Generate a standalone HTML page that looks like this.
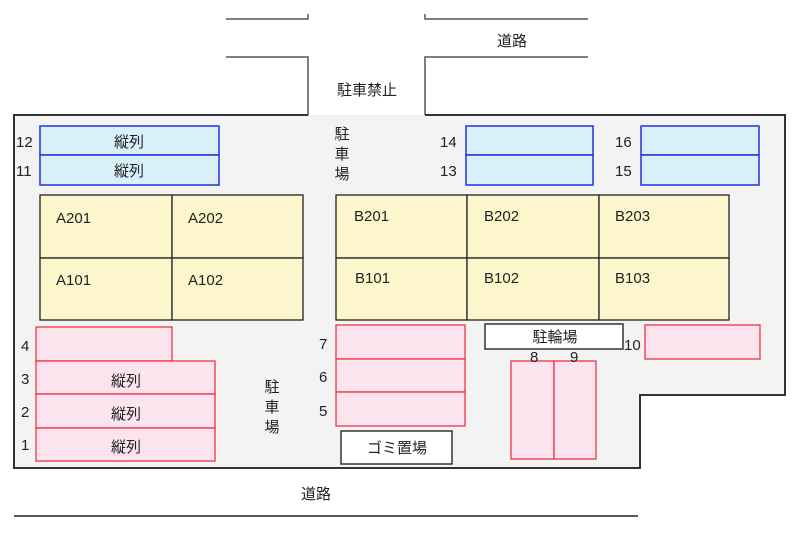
<!DOCTYPE html>
<html><head><meta charset="utf-8"><style>
html,body{margin:0;padding:0;background:#fff;width:800px;height:533px;overflow:hidden}
svg text{font-family:"Liberation Sans","Noto Sans CJK JP",sans-serif;fill:#222}
</style></head><body>
<svg width="800" height="533" viewBox="0 0 800 533" xmlns="http://www.w3.org/2000/svg">
<g fill="none" stroke="#555" stroke-width="1.5">
<polyline points="226,19 308,19 308,14"/>
<polyline points="425,14 425,19 588,19"/>
<polyline points="226,57 308,57 308,115"/>
<polyline points="588,57 425,57 425,115"/>
</g>
<path d="M14,115 L785,115 L785,395 L640,395 L640,468 L14,468 Z" fill="#f3f3f3"/>
<g fill="none" stroke="#333" stroke-width="2">
<polyline points="308,115 14,115 14,468 640,468 640,395 785,395 785,115 425,115"/>
</g>
<g font-size="15" text-anchor="middle">
<text x="512" y="46">道路</text>
<text x="367" y="95">駐車禁止</text>
<text x="316" y="499">道路</text>
</g>
<line x1="14" y1="516" x2="638" y2="516" stroke="#222" stroke-width="1.5"/>
<g fill="#d9f0fb" stroke="#2233dd" stroke-width="1.5">
<rect x="40" y="126" width="179" height="29"/><rect x="40" y="155" width="179" height="30"/>
<rect x="466" y="126" width="127" height="29"/><rect x="466" y="155" width="127" height="30"/>
<rect x="641" y="126" width="118" height="29"/><rect x="641" y="155" width="118" height="30"/>
</g>
<g fill="#fdf6cc" stroke="#222" stroke-width="1.3">
<rect x="40" y="195" width="132" height="63"/><rect x="172" y="195" width="131" height="63"/>
<rect x="40" y="258" width="132" height="62"/><rect x="172" y="258" width="131" height="62"/>
<rect x="336" y="195" width="131" height="63"/><rect x="467" y="195" width="132" height="63"/><rect x="599" y="195" width="130" height="63"/>
<rect x="336" y="258" width="131" height="62"/><rect x="467" y="258" width="132" height="62"/><rect x="599" y="258" width="130" height="62"/>
</g>
<g fill="#fce4ee" stroke="#ee3344" stroke-width="1.3">
<rect x="36" y="327" width="136" height="34"/>
<rect x="36" y="361" width="179" height="33"/><rect x="36" y="394" width="179" height="34"/><rect x="36" y="428" width="179" height="33"/>
<rect x="336" y="325" width="129" height="34"/><rect x="336" y="359" width="129" height="33"/><rect x="336" y="392" width="129" height="34"/>
<rect x="511" y="361" width="43" height="98"/><rect x="554" y="361" width="42" height="98"/>
<rect x="645" y="325" width="115" height="34"/>
</g>
<g fill="#fff" stroke="#333" stroke-width="1.5">
<rect x="341" y="431" width="111" height="33"/>
<rect x="485" y="324" width="138" height="25"/>
</g>
<g font-size="15" text-anchor="middle">
<text x="129" y="147">縦列</text><text x="129" y="176">縦列</text>
<text x="126" y="386">縦列</text><text x="126" y="419">縦列</text><text x="126" y="452">縦列</text>
<text x="397" y="453">ゴミ置場</text>
<text x="555" y="342">駐輪場</text>
<text x="342" y="139">駐</text><text x="342" y="159">車</text><text x="342" y="179">場</text>
<text x="272" y="392">駐</text><text x="272" y="412">車</text><text x="272" y="432">場</text>
</g>
<g font-size="15">
<text x="16" y="147">12</text><text x="16" y="176">11</text>
<text x="440" y="147">14</text><text x="440" y="176">13</text>
<text x="615" y="147">16</text><text x="615" y="176">15</text>
<text x="21" y="351">4</text><text x="21" y="384">3</text><text x="21" y="417">2</text><text x="21" y="450">1</text>
<text x="319" y="349">7</text><text x="319" y="382">6</text><text x="319" y="416">5</text>
<text x="530" y="362">8</text><text x="570" y="362">9</text>
<text x="624" y="350">10</text>
<text x="56" y="223">A201</text><text x="188" y="223">A202</text>
<text x="56" y="285">A101</text><text x="188" y="285">A102</text>
<text x="354" y="221">B201</text><text x="484" y="221">B202</text><text x="615" y="221">B203</text>
<text x="355" y="283">B101</text><text x="484" y="283">B102</text><text x="615" y="283">B103</text>
</g>
</svg>
</body></html>
